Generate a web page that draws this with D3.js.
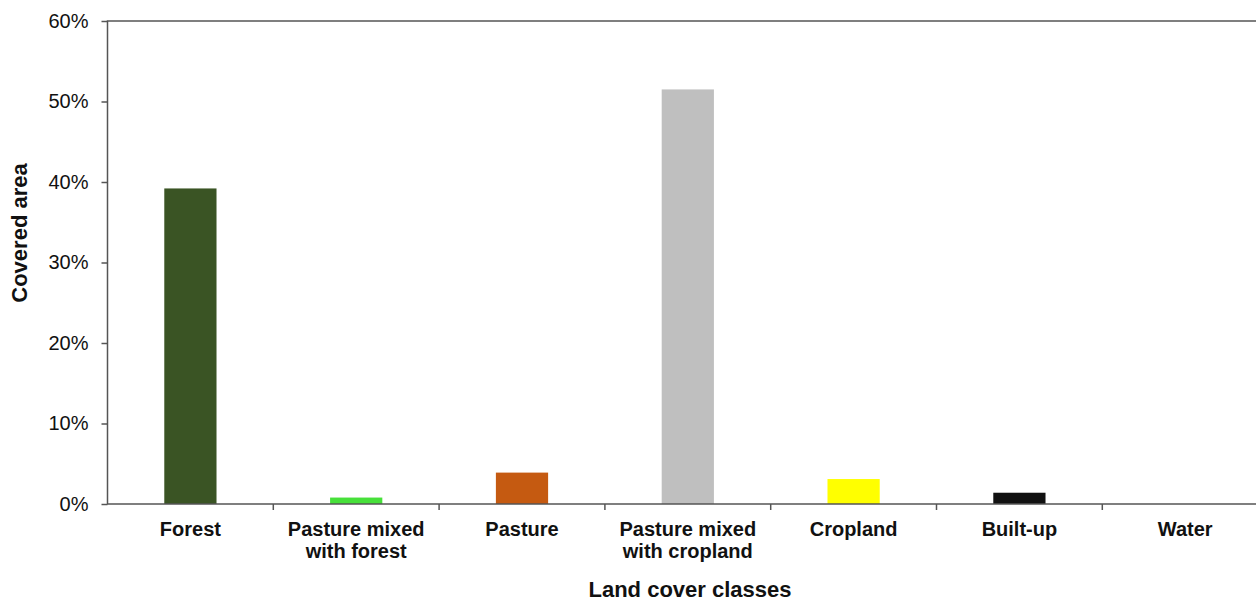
<!DOCTYPE html>
<html>
<head>
<meta charset="utf-8">
<script src="https://cdn.jsdelivr.net/npm/d3@7"></script>
<style>
  html, body { margin: 0; padding: 0; background: #fff; }
  svg { display: block; font-family: "Liberation Sans", Arial, sans-serif; }
</style>
</head>
<body>
<div id="chart"></div>
<script>
  const categories = [
    ["Forest"],
    ["Pasture mixed", "with forest"],
    ["Pasture"],
    ["Pasture mixed", "with cropland"],
    ["Cropland"],
    ["Built-up"],
    ["Water"]
  ];
  const values = [0.392, 0.008, 0.039, 0.515, 0.031, 0.014, 0];
  const colors = ["#3a5424", "#47e03a", "#c55a11", "#bfbfbf", "#ffff00", "#111111", "#4f81bd"];
  const yTicks = [0, 0.1, 0.2, 0.3, 0.4, 0.5, 0.6];

  const W = 1256, H = 602;
  const margin = { top: 21, left: 107.5, bottom: 98 };
  const plotW = 1160.6;
  const plotH = H - margin.top - margin.bottom;

  const svg = d3.select("#chart").append("svg")
    .attr("width", W)
    .attr("height", H);

  const g = svg.append("g")
    .attr("transform", "translate(" + margin.left + "," + margin.top + ")");

  const keys = categories.map(function (d) { return d.join(" "); });

  const x = d3.scaleBand()
    .domain(keys)
    .range([0, plotW])
    .padding(0);

  const y = d3.scaleLinear()
    .domain([0, 0.6])
    .range([plotH, 0]);

  const barW = x.bandwidth() * 0.315;

  // bars
  g.selectAll(".bar")
    .data(values)
    .enter().append("rect")
    .attr("class", "bar")
    .attr("x", function (d, i) { return x(keys[i]) + (x.bandwidth() - barW) / 2; })
    .attr("width", barW)
    .attr("y", function (d) { return y(d); })
    .attr("height", function (d) { return plotH - y(d); })
    .style("fill", function (d, i) { return colors[i]; });

  // plot frame (right edge falls outside the picture)
  g.append("rect")
    .attr("x", 0)
    .attr("y", 0)
    .attr("width", plotW)
    .attr("height", plotH)
    .style("fill", "none")
    .style("stroke", "#555")
    .style("stroke-width", 1.5);

  // y axis
  const yAxis = d3.axisLeft(y)
    .tickValues(yTicks)
    .tickSize(6)
    .tickPadding(13)
    .tickFormat(d3.format(".0%"));

  g.append("g")
    .attr("class", "y axis")
    .call(yAxis)
    .call(function (s) {
      s.select(".domain").remove();
      s.selectAll("line").style("stroke", "#555").style("stroke-width", 1.5);
      s.selectAll("text")
        .style("font-size", "20px")
        .style("fill", "#111");
    });

  // x axis: ticks at band boundaries
  const xAxis = d3.axisBottom(x)
    .tickSize(0)
    .tickFormat("");

  const xg = g.append("g")
    .attr("class", "x axis")
    .attr("transform", "translate(0," + plotH + ")")
    .call(xAxis);
  xg.select(".domain").remove();

  xg.selectAll(".sep")
    .data(keys.slice(1))
    .enter().append("line")
    .attr("class", "sep")
    .attr("x1", function (d) { return x(d); })
    .attr("x2", function (d) { return x(d); })
    .attr("y1", 0)
    .attr("y2", 6)
    .style("stroke", "#555")
    .style("stroke-width", 1.5);

  const labels = xg.selectAll(".cat")
    .data(categories)
    .enter().append("text")
    .attr("class", "cat")
    .attr("text-anchor", "middle")
    .attr("x", function (d, i) { return x(keys[i]) + x.bandwidth() / 2; })
    .attr("y", 32)
    .style("font-size", "20px")
    .style("font-weight", "bold")
    .style("fill", "#111");

  labels.selectAll("tspan")
    .data(function (d) { return d; })
    .enter().append("tspan")
    .attr("x", function () { return d3.select(this.parentNode).attr("x"); })
    .attr("dy", function (d, i) { return i === 0 ? 0 : 22; })
    .text(function (d) { return d; });

  // axis titles
  svg.append("text")
    .attr("x", 690)
    .attr("y", 597)
    .attr("text-anchor", "middle")
    .style("font-size", "22px")
    .style("font-weight", "bold")
    .style("fill", "#111")
    .text("Land cover classes");

  svg.append("text")
    .attr("transform", "translate(27,233) rotate(-90)")
    .attr("text-anchor", "middle")
    .style("font-size", "22px")
    .style("font-weight", "bold")
    .style("fill", "#111")
    .text("Covered area");
</script>
</body>
</html>
